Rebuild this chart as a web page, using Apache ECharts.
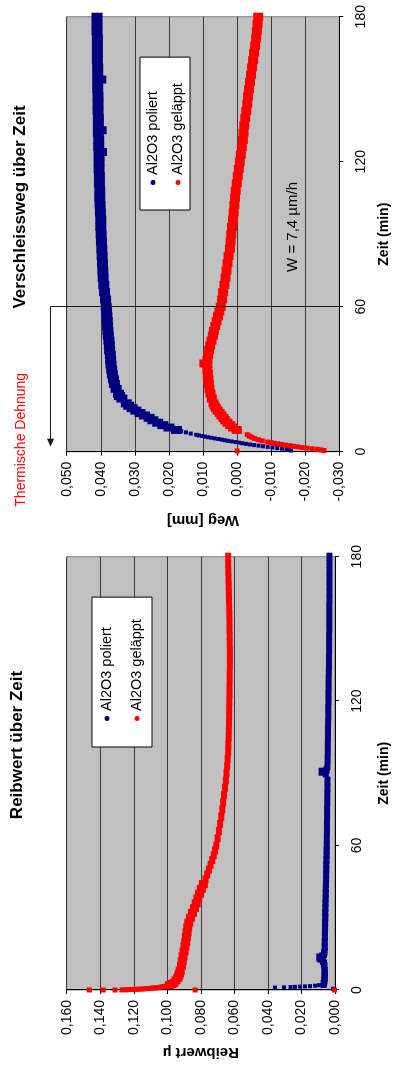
<!DOCTYPE html>
<html>
<head>
<meta charset="utf-8">
<title>Reibwert und Verschleissweg über Zeit</title>
<script src="https://cdn.jsdelivr.net/npm/echarts@6/dist/echarts.min.js"></script>
<style>
  html, body { margin: 0; padding: 0; background: #fff; overflow: hidden; }
  /* Vorlage liegt quer: im Querformat zeichnen, dann 90° gegen den Uhrzeigersinn drehen */
  #chart {
    position: absolute; left: 0; top: 0;
    width: 1065px; height: 395px;
    transform-origin: 0 0;
    transform: translateY(1065px) rotate(-90deg);
  }
</style>
</head>
<body>
<div id="chart"></div>
<script>
// Reibwert über Zeit  [Zeit (min), Reibwert µ]
const reibPoliert = [
  [0.5,0.0012],[1.0,0.0358],[1.1,0.0304],[1.2,0.0265],[1.3,0.0239],[1.4,0.0209],[1.5,0.0179],[1.6,0.0149],[1.8,0.0119],[2.0,0.0095],
  [2.5,0.0068],[3,0.0065],[4,0.0063],[5,0.0062],[6,0.0061],[7,0.0061],[8,0.0062],[10,0.0063],[11,0.0066],[12,0.0072],
  [13,0.0086],[13.5,0.0094],[14,0.0076],[15,0.0066],[16,0.0062],[18,0.0061],[20,0.0061],[22,0.0060],[24,0.0060],[26,0.0059],
  [28,0.0059],[30,0.0058],[32,0.0058],[34,0.0057],[36,0.0057],[38,0.0056],[40,0.0055],[42,0.0055],[44,0.0054],[46,0.0053],
  [48,0.0053],[50,0.0052],[52,0.0052],[54,0.0051],[56,0.0050],[58,0.0050],[60,0.0049],[63,0.0049],[66,0.0048],[69,0.0048],
  [72,0.0047],[75,0.0047],[78,0.0046],[81,0.0046],[84,0.0045],[87,0.0045],[90,0.0055],[90.7,0.0080],[91.5,0.0050],[93,0.0045],
  [96,0.0044],[99,0.0043],[102,0.0043],[105,0.0042],[108,0.0042],[111,0.0041],[114,0.0040],[117,0.0040],[120,0.0039],[123,0.0039],
  [126,0.0038],[129,0.0038],[132,0.0037],[135,0.0036],[138,0.0036],[141,0.0035],[144,0.0035],[147,0.0035],[150,0.0034],[153,0.0034],
  [156,0.0034],[159,0.0034],[162,0.0033],[165,0.0033],[168,0.0033],[171,0.0033],[174,0.0033],[177,0.0033],[180,0.0033]
];
const reibGelaeppt = [
  [0,0.1465],[0,0.1382],[0,0.1312],[0,0.0834],[0,0.0003],
  [0.05,0.1270],[0.1,0.1250],[0.15,0.1232],[0.2,0.1215],[0.25,0.1198],[0.3,0.1182],[0.35,0.1166],[0.4,0.1150],[0.5,0.1134],[0.6,0.1118],
  [0.7,0.1100],[0.8,0.1085],[0.9,0.1070],[1,0.1055],[1.15,0.1042],[1.3,0.1030],[1.45,0.1018],[1.6,0.1008],[1.8,0.0997],
  [2,0.0988],[2.5,0.0972],[3,0.0960],[4,0.0948],[5,0.0938],[6,0.0932],[7,0.0927],[8,0.0923],[10,0.0916],[12,0.0911],
  [14,0.0906],[16,0.0900],[18,0.0895],[20,0.0890],[22,0.0886],[24,0.0882],[26,0.0878],[28,0.0872],[30,0.0862],[32,0.0850],
  [34,0.0838],[36,0.0828],[38,0.0818],[40,0.0808],[42,0.0797],[44,0.0785],[46,0.0772],[48,0.0762],[50,0.0752],[52,0.0742],
  [54,0.0732],[56,0.0723],[58,0.0715],[60,0.0708],[63,0.0700],[66,0.0692],[69,0.0685],[72,0.0678],[75,0.0672],[78,0.0667],
  [81,0.0662],[84,0.0656],[87,0.0651],[90,0.0647],[93,0.0643],[96,0.0640],[99,0.0637],[102,0.0636],[105,0.0634],[108,0.0633],
  [111,0.0632],[114,0.0631],[117,0.0631],[120,0.0630],[123,0.0629],[126,0.0629],[129,0.0628],[132,0.0628],[135,0.0627],[138,0.0627],
  [141,0.0627],[144,0.0628],[147,0.0628],[150,0.0629],[153,0.0629],[156,0.0630],[159,0.0631],[162,0.0632],[165,0.0633],[168,0.0634],
  [171,0.0635],[174,0.0636],[177,0.0637],[180,0.0637]
];

// Verschleissweg über Zeit  [Zeit (min), Weg (mm)]
const wegPoliert = [
  [0.5,-0.0158],[0.75,-0.0152],[1,-0.0145],[1.25,-0.0132],[1.5,-0.0118],[1.75,-0.0104],[2,-0.0090],[2.25,-0.0076],[2.5,-0.0063],
  [2.75,-0.0050],[3,-0.0038],[3.25,-0.0026],[3.5,-0.0015],[3.75,-0.0005],[4,0.0005],[4.25,0.0016],[4.5,0.0027],[4.75,0.0036],
  [5,0.0045],[5.25,0.0055],[5.5,0.0065],[5.75,0.0075],[6,0.0085],[6.25,0.0094],[6.5,0.0103],[6.75,0.0112],[7,0.0120],[7.5,0.0136],
  [8,0.0150],[8.5,0.0164],[9,0.0178],[10,0.0200],[11,0.0218],[12,0.0233],
  [13,0.0247],[14,0.0258],[15,0.0272],[16,0.0285],[17,0.0297],[18,0.0308],[19,0.0318],[20,0.0325],[22,0.0338],[23,0.0345],
  [24,0.0348],[26,0.0355],[28,0.0360],[30,0.0363],[32,0.0366],[34,0.0368],[36,0.0370],[38,0.0371],[40,0.0372],[42,0.0374],
  [44,0.0375],[46,0.0376],[48,0.0378],[50,0.0379],[52,0.0380],[54,0.0381],[56,0.0382],[58,0.0383],[60,0.0384],[63,0.0386],
  [66,0.0389],[69,0.0391],[72,0.0393],[75,0.0394],[78,0.0395],[81,0.0396],[84,0.0397],[87,0.0398],[90,0.0399],[93,0.0400],
  [96,0.0400],[99,0.0401],[102,0.0402],[105,0.0403],[108,0.0403],[111,0.0404],[114,0.0404],[117,0.0405],[120,0.0405],[123,0.0405],
  [124,0.0398],[126,0.0406],[129,0.0406],[132,0.0407],[133,0.0399],[135,0.0407],[138,0.0407],[141,0.0408],[144,0.0408],[147,0.0408],
  [150,0.0409],[153,0.0409],[154,0.0400],[156,0.0409],[159,0.0409],[162,0.0410],[165,0.0410],[168,0.0410],[171,0.0410],[174,0.0411],
  [177,0.0411],[180,0.0411]
];
const wegGelaeppt = [
  [0.3,0.0000],[0.5,-0.0255],[0.75,-0.0246],[1,-0.0235],[1.25,-0.0220],[1.5,-0.0205],[1.75,-0.0191],[2,-0.0178],[2.25,-0.0166],
  [2.5,-0.0155],[2.75,-0.0142],[3,-0.0130],[3.25,-0.0119],[3.5,-0.0108],[3.75,-0.0099],[4,-0.0090],[4.5,-0.0074],
  [5,-0.0062],[5.5,-0.0051],[6,-0.0043],[6.5,-0.0036],[7,-0.0030],[8.5,-0.0006],[9,0.0001],[10,0.0012],[11,0.0020],[12,0.0028],
  [13,0.0035],[14,0.0040],[15,0.0046],[16,0.0051],[17,0.0057],[18,0.0062],[19,0.0066],[20,0.0069],[22,0.0074],[24,0.0078],
  [26,0.0081],[28,0.0083],[30,0.0084],[32,0.0086],[34,0.0087],[36,0.0088],[36.5,0.0096],[38,0.0087],[40,0.0085],[42,0.0082],
  [44,0.0079],[46,0.0075],[48,0.0071],[50,0.0068],[52,0.0064],[54,0.0060],[56,0.0056],[58,0.0052],[60,0.0048],[63,0.0044],
  [66,0.0041],[69,0.0037],[72,0.0034],[75,0.0031],[78,0.0028],[81,0.0025],[84,0.0021],[87,0.0019],[90,0.0017],[93,0.0015],
  [96,0.0012],[99,0.0010],[102,0.0008],[105,0.0006],[108,0.0004],[111,0.0001],[114,-0.0002],[117,-0.0005],[120,-0.0008],[123,-0.0011],
  [126,-0.0014],[129,-0.0017],[132,-0.0019],[135,-0.0021],[138,-0.0024],[141,-0.0027],[144,-0.0030],[147,-0.0032],[150,-0.0035],[153,-0.0038],
  [156,-0.0041],[159,-0.0044],[162,-0.0047],[165,-0.0050],[168,-0.0053],[171,-0.0056],[174,-0.0058],[177,-0.0060],[180,-0.0062]
];

const seriesNames = ['Al2O3 poliert', 'Al2O3 geläppt'];
const zeitAxis = { min: 0, max: 180, interval: 60 };
const reibAxis = { min: 0, max: 0.16, interval: 0.02 };
const wegAxis = { min: -0.03, max: 0.05, interval: 0.01 };

const FONT = '"Liberation Sans", Arial, sans-serif';
const BLUE = '#000080';
const RED = '#ff0000';

const fmt3 = v => (Math.abs(v) < 1e-9 ? 0 : v).toFixed(3).replace('.', ',');

function timeAxis(gridIndex, nameGap) {
  return {
    type: 'value', gridIndex, min: zeitAxis.min, max: zeitAxis.max, interval: zeitAxis.interval,
    name: 'Zeit (min)', nameLocation: 'middle', nameGap,
    nameTextStyle: { fontFamily: FONT, fontSize: 14, fontWeight: 'bold', color: '#000' },
    axisLine: { show: true, onZero: false, lineStyle: { color: '#000', width: 1 } },
    axisTick: { show: true, inside: false, length: 4, lineStyle: { color: '#000' } },
    axisLabel: { fontFamily: FONT, fontSize: 14, color: '#000', margin: 15 },
    splitLine: { show: false }
  };
}
function valAxis(gridIndex, cfg, name, nameGap) {
  return {
    type: 'value', gridIndex, min: cfg.min, max: cfg.max, interval: cfg.interval,
    name, nameLocation: 'middle', nameRotate: 90, nameGap,
    nameTextStyle: { fontFamily: FONT, fontSize: 15, fontWeight: 'bold', color: '#000' },
    axisLine: { show: true, onZero: false, lineStyle: { color: '#000', width: 1 } },
    axisTick: { show: true, inside: false, length: 4, lineStyle: { color: '#000' } },
    axisLabel: { fontFamily: FONT, fontSize: 14, color: '#000', margin: 10, formatter: fmt3 },
    splitLine: { show: true, lineStyle: { color: '#3a3a3a', width: 1 } }
  };
}
function legendBox(left, top, padding, itemGap) {
  return {
    left, top, orient: 'vertical', padding, itemGap,
    data: seriesNames, icon: 'circle', itemWidth: 5, itemHeight: 5,
    backgroundColor: '#fff', borderColor: '#000', borderWidth: 1, borderRadius: 0,
    selectedMode: false,
    textStyle: { fontFamily: FONT, fontSize: 14.5, color: '#000', lineHeight: 16 }
  };
}
function dots(name, xAxisIndex, data, color, sizeFn) {
  return {
    name, type: 'scatter', xAxisIndex, yAxisIndex: xAxisIndex, data,
    symbol: 'rect', symbolSize: sizeFn, itemStyle: { color, opacity: 1 },
    silent: true, animation: false
  };
}

const chart = echarts.init(document.getElementById('chart'));
chart.setOption({
  backgroundColor: '#fff',
  animation: false,
  title: [
    { text: 'Reibwert über Zeit', left: 320, top: 9, textAlign: 'center', padding: 0,
      textStyle: { fontFamily: FONT, fontSize: 17, fontWeight: 'bold', color: '#000' } },
    { text: 'Verschleissweg über Zeit', left: 858, top: 12, textAlign: 'center', padding: 0,
      textStyle: { fontFamily: FONT, fontSize: 17, fontWeight: 'bold', color: '#000' } }
  ],
  grid: [
    { left: 75, top: 66.7, width: 433.3, height: 268.3, show: true, backgroundColor: '#c0c0c0',
      borderColor: '#808080', borderWidth: 1, outerBoundsMode: 'none' },
    { left: 613.3, top: 66.7, width: 435, height: 272.6, show: true, backgroundColor: '#c0c0c0',
      borderColor: '#808080', borderWidth: 1, outerBoundsMode: 'none' }
  ],
  xAxis: [timeAxis(0, 42), timeAxis(1, 38)],
  yAxis: [
    valAxis(0, reibAxis, 'Reibwert µ', 55),
    valAxis(1, wegAxis, 'Weg [mm]', 61)
  ],
  legend: [
    legendBox(318, 92, [7, 22, 7, 26], 14),
    legendBox(855, 140, [5, 26, 4, 25], 9)
  ],
  series: [
    dots(seriesNames[0], 0, reibPoliert, BLUE, v => v[0] < 2.5 ? 4 : [8, 6]),
    dots(seriesNames[1], 0, reibGelaeppt, RED, v => v[0] < 2 ? 5 : (v[0] < 45 ? [8, 9] : [8, 6])),
    dots(seriesNames[0], 1, wegPoliert, BLUE, v => v[0] < 9 ? 4 : [8, 11]),
    dots(seriesNames[1], 1, wegGelaeppt, RED, v => v[0] < 9 ? 5 : [8, 10])
  ]
});

// Anmerkungen im Verschleissweg-Diagramm
const g = { gridIndex: 1 };
const top60 = chart.convertToPixel(g, [60, wegAxis.max]);
const bot60 = chart.convertToPixel(g, [60, wegAxis.min]);
const start = chart.convertToPixel(g, [0, wegAxis.max]);
const wPos = chart.convertToPixel(g, [74.4, -0.0164]);
const lineX = Math.round(top60[0]) + 0.5;
const arrowY = Math.round(top60[1] - 17) + 0.5;
const tipX = start[0] + 5;
const ink = '#1a1a1a';

chart.setOption({
  graphic: [
    { type: 'line', z: 100, shape: { x1: lineX, y1: arrowY, x2: lineX, y2: bot60[1] },
      style: { stroke: ink, lineWidth: 1 } },
    { type: 'line', z: 100, shape: { x1: lineX, y1: arrowY, x2: tipX + 6, y2: arrowY },
      style: { stroke: ink, lineWidth: 1 } },
    { type: 'polygon', z: 100, shape: { points: [[tipX, arrowY], [tipX + 8, arrowY - 3.5], [tipX + 8, arrowY + 3.5]] },
      style: { fill: ink } },
    { type: 'text', z: 100, x: start[0] - 55, y: arrowY - 29,
      style: { text: 'Thermische Dehnung', fontFamily: FONT, fontSize: 14, fill: RED, verticalAlign: 'middle' } },
    { type: 'text', z: 100, x: wPos[0], y: wPos[1],
      style: { text: 'W = 7,4 µm/h', fontFamily: FONT, fontSize: 15, fill: '#000', verticalAlign: 'middle' } }
  ]
});
</script>
</body>
</html>
